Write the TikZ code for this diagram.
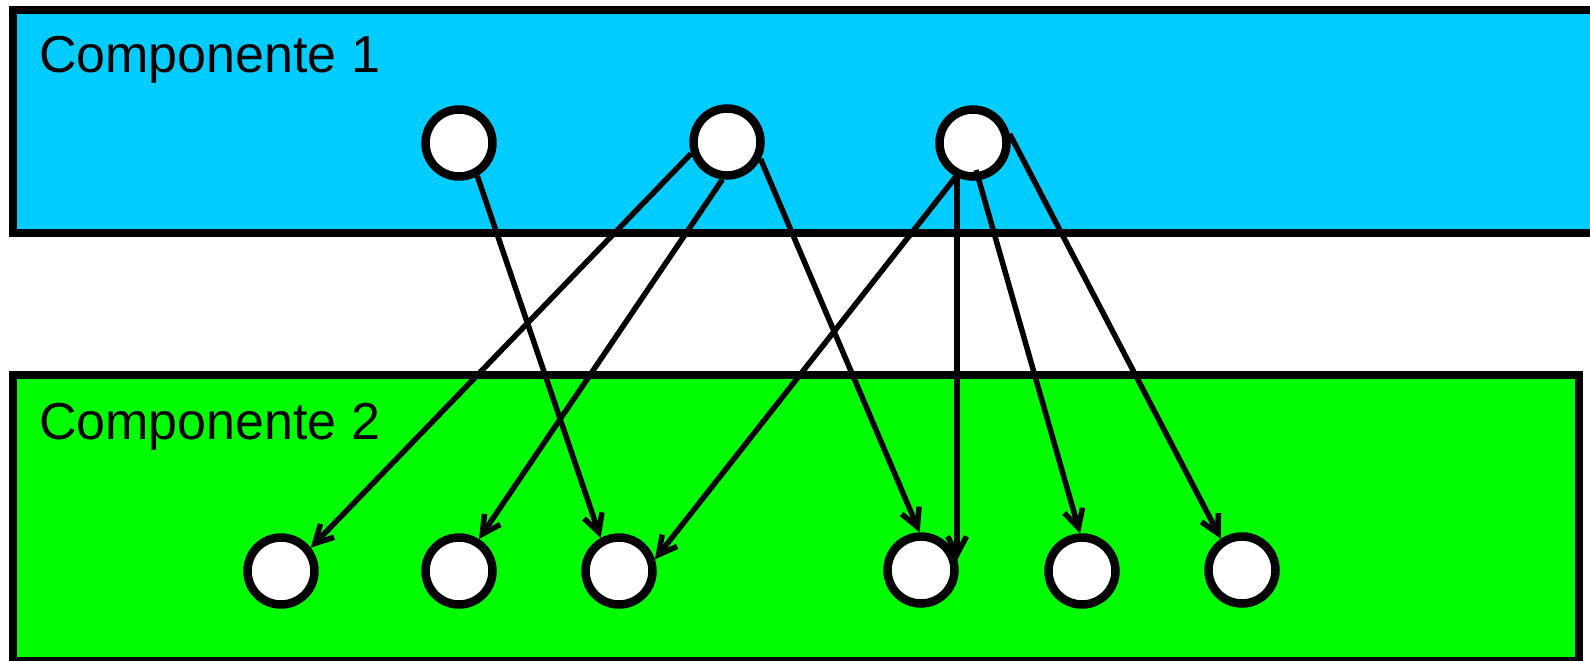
\documentclass[tikz,border=0pt]{standalone}
\usepackage{fontspec}
\setmainfont{Liberation Sans}
\usetikzlibrary{arrows.meta}
\definecolor{compA}{RGB}{0,204,255}
\definecolor{compB}{RGB}{0,255,0}
\tikzset{
  compbox/.style={draw=black,line width=8.5pt},
  complabel/.style={anchor=base west,inner sep=0pt,font=\fontsize{52}{60}\selectfont},
  port/.style={circle,draw=black,fill=white,line width=8.5pt,minimum size=67pt,inner sep=0pt,outer sep=4.25pt},
  link/.style={line width=5.5pt,-{Straight Barb[length=18pt,width=19pt,line width=5.5pt]}}
}
\begin{document}
\begin{tikzpicture}[x=1pt,y=-1pt]
\useasboundingbox (0,0) rectangle (1590,661);
\clip (0,0) rectangle (1590,661);
\fill[white] (0,0) rectangle (1590,661);
% component boxes
\draw[compbox,fill=compA] (13,10) rectangle (1610,233);
\draw[compbox,fill=compB] (13,375) rectangle (1579,661);
\node[complabel] (l1) at (39,73) {Componente 1};
\node[complabel] (l2) at (39,439) {Componente 2};
% ports
\node[port] (t1) at (459,143) {};
\node[port] (t2) at (727,142) {};
\node[port] (t3) at (973,143) {};
\node[port] (b1) at (281,571) {};
\node[port] (b2) at (459,571) {};
\node[port] (b3) at (619,571) {};
\node[port] (b4) at (921,570) {};
\node[port] (b5) at (1082,571) {};
\node[port] (b6) at (1242,570) {};
% connectors
\draw[link] (t1.-61) -- (b3.119);
\draw[link] (t2.198) -- (b1.38);
\draw[link] (t2.263) -- (b2.58);
\draw[link] (t2.333) -- (b4.92);
\draw[link] (t3.243) -- (b3.18);
\draw[link] (t3.245) -- (t3.245 |- b4.15);
\draw[link] ([shift={(3,27)}]t3.center) -- (b5.93);
\draw[link] (t3.14) -- (b6.124);
\end{tikzpicture}
\end{document}
